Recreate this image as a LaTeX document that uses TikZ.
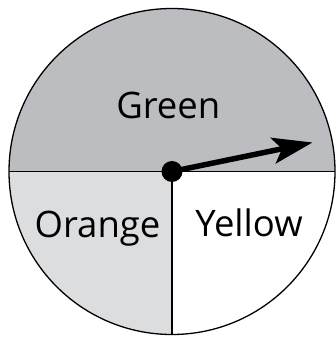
\documentclass[tikz,border=0pt]{standalone}
\usepackage{fontspec}
\setmainfont{Open Sans}
\usepackage{tikz}
\usetikzlibrary{positioning,arrows.meta,calc}
\definecolor{greenpart}{HTML}{BCBDC0}
\definecolor{orangepart}{HTML}{DCDDDE}
\newcommand{\spinrad}{163}

\begin{document}
\begin{tikzpicture}[x=1pt,y=1pt,
  label/.style={font=\fontsize{36.5}{36.5}\selectfont,inner sep=0pt,anchor=base}]
  \useasboundingbox (0,0) rectangle (336,337);
  \coordinate (c) at (172,165.5);
  % sectors
  \fill[greenpart] (c) ++(\spinrad,0) arc (0:180:\spinrad) -- cycle;
  \fill[orangepart] (c) -- ++(-\spinrad,0) arc (180:270:\spinrad) -- cycle;
  \draw[line width=1.1pt] ($(c)+(-\spinrad,0)$) -- ($(c)+(\spinrad,0)$);
  \draw[line width=1.1pt] (c) -- ++(0,-\spinrad);
  \draw[line width=1.3pt] (c) circle (\spinrad);
  % labels
  \node[label] (green) at (168.3,218.7) {Green};
  \node[label] (orange) at (97.5,99.5) {Orange};
  \node[label] (yellow) at (249,100) {Yellow};
  % pointer
  \coordinate (tip) at (312.5,194.5);
  \draw[line width=5.5pt,-{Stealth[length=40pt,width=26pt,inset=9pt]}] (c) -- (tip);
  \fill (c) circle (10.5);
\end{tikzpicture}
\end{document}
